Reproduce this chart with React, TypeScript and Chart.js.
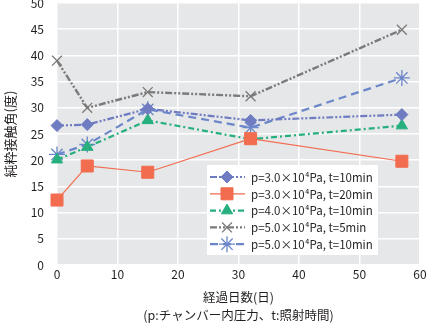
import React, { useEffect, useRef } from "react";
import { Chart, registerables } from "chart.js";
import { drawPoint } from "chart.js/helpers";
Chart.register(...registerables);

const days = [0, 5, 15, 32, 57];
const s1 = [26.6, 26.8, 29.8, 27.6, 28.7]; // p=3.0, t=10
const s2 = [12.4, 18.9, 17.7, 24.1, 19.8]; // p=3.0, t=20
const s3 = [20.1, 22.5, 27.6, 24.0, 26.6]; // p=4.0, t=10
const s4 = [39.0, 30.0, 33.0, 32.2, 44.9]; // p=5.0, t=5
const s5 = [21.1, 23.0, 29.7, 26.2, 35.7]; // p=5.0, t=10
const seriesLabels = [
  "p=3.0×10⁴Pa, t=10min",
  "p=3.0×10⁴Pa, t=20min",
  "p=4.0×10⁴Pa, t=10min",
  "p=5.0×10⁴Pa, t=5min",
  "p=5.0×10⁴Pa, t=10min",
];
const xTitle = "経過日数(日)";
const xSub = "(p:チャンバー内圧力、t:照射時間)";
const yTitle = "純粋接触角(度)";

const FONT = "'Noto Sans CJK JP', 'Noto Sans', sans-serif";
const TEXT = "#231f20";

const styles = [
  { color: "#6f7cc2", dash: [7, 2, 2, 2, 2, 2], width: 2.2, point: "rectRot", r: 6 },
  { color: "#f26c4f", dash: [], width: 1.2, point: "rect", r: 8.5 },
  { color: "#27b07e", dash: [6, 3, 2, 3], width: 2.2, point: "triangle", r: 6.5 },
  { color: "#7a7a7a", dash: [7, 2, 2, 2, 2, 2], width: 2.4, point: "crossRot", r: 7 },
  { color: "#6b86c9", dash: [8, 5], width: 2.2, point: "star", r: 8 },
];

const bgPlugin = {
  id: "bg",
  beforeDraw(chart: any) {
    const { ctx, chartArea: a } = chart;
    ctx.save();
    ctx.fillStyle = "#e6e7e9";
    ctx.fillRect(a.left, a.top, a.right - a.left, a.bottom - a.top);
    ctx.restore();
  },
};

const legendPlugin = {
  id: "customLegend",
  afterDraw(chart: any) {
    const { ctx, chartArea: a } = chart;
    const x0 = a.left + 150;
    const y0 = a.top + 162;
    const w = 171;
    const h = 90;
    ctx.save();
    ctx.fillStyle = "#ffffff";
    ctx.fillRect(x0, y0, w, h);
    chart.data.datasets.forEach((ds: any, i: number) => {
      const st = styles[i];
      const y = y0 + 12 + i * 16.8;
      ctx.save();
      ctx.strokeStyle = st.color;
      ctx.lineWidth = st.width;
      ctx.setLineDash(st.dash);
      ctx.beginPath();
      ctx.moveTo(x0 + 3, y);
      ctx.lineTo(x0 + 38, y);
      ctx.stroke();
      ctx.setLineDash([]);
      ctx.fillStyle = st.color;
      ctx.strokeStyle = st.color;
      const bw = st.point === "crossRot" || st.point === "star" ? 1.3 : 1;
      ctx.lineWidth = bw;
      drawPoint(ctx, { pointStyle: st.point as any, radius: st.r, borderWidth: bw, rotation: 0 } as any, x0 + 20, y);
      ctx.restore();
      ctx.fillStyle = TEXT;
      ctx.font = `11.5px ${FONT}`;
      ctx.textBaseline = "middle";
      ctx.fillText(ds.label, x0 + 44, y + 0.5);
    });
    ctx.restore();
  },
};

export default function App() {
  const ref = useRef<HTMLCanvasElement>(null);
  useEffect(() => {
    const data = [s1, s2, s3, s4, s5];
    const chart = new Chart(ref.current!, {
      type: "line",
      data: {
        datasets: data.map((vals, i) => ({
          label: seriesLabels[i],
          data: vals.map((v, j) => ({ x: days[j], y: v })),
          borderColor: styles[i].color,
          backgroundColor: styles[i].color,
          borderWidth: styles[i].width,
          borderDash: styles[i].dash,
          pointStyle: styles[i].point as any,
          pointRadius: styles[i].r,
          pointBorderWidth: styles[i].point === "crossRot" || styles[i].point === "star" ? 1.3 : 1,
          tension: 0,
          clip: false as any,
        })),
      },
      options: {
        responsive: false,
        animation: false,
        layout: { autoPadding: false, padding: { top: 3, right: 7, left: 0, bottom: 0 } },
        plugins: { legend: { display: false }, tooltip: { enabled: false } },
        scales: {
          x: {
            type: "linear",
            min: 0,
            max: 60,
            ticks: { stepSize: 10, color: TEXT, font: { family: FONT, size: 12 }, padding: 2 },
            grid: { color: "#ffffff", lineWidth: 1.5, drawTicks: false },
            border: { display: false },
            title: {
              display: true,
              text: [xTitle, xSub],
              color: TEXT,
              font: { family: FONT, size: 12.5, lineHeight: 1.45 },
              padding: { top: 4, bottom: 0 },
            },
            afterFit(scale: any) {
              scale.height = 59;
              scale.paddingLeft = 0;
              scale.paddingRight = 0;
            },
          },
          y: {
            min: 0,
            max: 50,
            ticks: { stepSize: 5, color: TEXT, font: { family: FONT, size: 12 }, padding: 13 },
            grid: { color: "#ffffff", lineWidth: 1.5, drawTicks: false },
            border: { display: false },
            title: {
              display: true,
              text: yTitle,
              color: TEXT,
              font: { family: FONT, size: 13 },
              padding: { top: 2, bottom: 0 },
            },
            afterFit(scale: any) {
              scale.width = 57;
              scale.paddingTop = 0;
              scale.paddingBottom = 0;
            },
          },
        },
      },
      plugins: [bgPlugin, legendPlugin],
    });
    return () => chart.destroy();
  }, []);
  return (
    <div style={{ position: "fixed", left: 0, top: 0, width: 427, height: 324, background: "#fff" }}>
      <canvas ref={ref} width={427} height={324} />
    </div>
  );
}
